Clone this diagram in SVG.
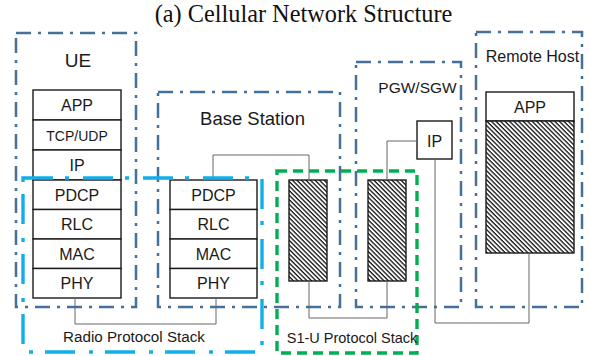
<svg xmlns="http://www.w3.org/2000/svg" width="590" height="356" viewBox="0 0 590 356">
<style>
.grp{fill:none;stroke:#44709a;stroke-width:2.5;stroke-dasharray:15 7 3 7}
.cell{fill:#fff;stroke:#1a1a1a;stroke-width:1.4}
.hatch{fill:url(#hatch);stroke:#1a1a1a;stroke-width:1.4}
.t{font-family:"Liberation Sans",Arial,sans-serif;fill:#1a1a1a;text-anchor:middle}
.c{font-size:16.5}
.conn{fill:none;stroke:#666;stroke-width:1}
</style>
<defs>
<pattern id="hatch" width="3.2" height="3.2" patternUnits="userSpaceOnUse" patternTransform="rotate(45)">
<rect width="3.2" height="3.2" fill="#fff"/>
<rect y="0" width="3.2" height="1.3" fill="#111"/>
</pattern>
</defs>
<rect width="590" height="356" fill="#fff"/>
<text x="303.5" y="22" font-family="'Liberation Serif','Times New Roman',serif" font-size="24.3" text-anchor="middle" fill="#111">(a) Cellular Network Structure</text>

<g id="ue">
<rect class="grp" x="16" y="33" width="120" height="274"/>
<text class="t" x="78" y="67" font-size="19">UE</text>
<rect class="cell" x="33" y="90" width="88" height="30"/>
<text class="t c" x="77" y="111">APP</text>
<rect class="cell" x="33" y="120" width="88" height="30"/>
<text class="t" x="77" y="140.5" font-size="14">TCP/UDP</text>
<rect class="cell" x="33" y="150" width="88" height="30"/>
<text class="t c" x="77" y="171">IP</text>
<rect class="cell" x="33" y="180" width="88" height="29.5"/>
<text class="t c" x="77" y="200.5">PDCP</text>
<rect class="cell" x="33" y="209.5" width="88" height="29.5"/>
<text class="t c" x="77" y="230">RLC</text>
<rect class="cell" x="33" y="239" width="88" height="29.5"/>
<text class="t c" x="77" y="259.5">MAC</text>
<rect class="cell" x="33" y="268.5" width="88" height="29.5"/>
<text class="t c" x="77" y="289">PHY</text>
</g>

<g id="base-station">
<rect class="grp" x="158" y="92" width="182" height="215"/>
<text class="t" x="252.5" y="125" font-size="18.5">Base Station</text>
<rect class="cell" x="170" y="180" width="87" height="29.5"/>
<text class="t c" x="213.5" y="200.5">PDCP</text>
<rect class="cell" x="170" y="209.5" width="87" height="29.5"/>
<text class="t c" x="213.5" y="230">RLC</text>
<rect class="cell" x="170" y="239" width="87" height="29.5"/>
<text class="t c" x="213.5" y="259.5">MAC</text>
<rect class="cell" x="170" y="268.5" width="87" height="29.5"/>
<text class="t c" x="213.5" y="289">PHY</text>
<rect class="hatch" x="289" y="180" width="38" height="101"/>
</g>

<g id="pgw-sgw">
<rect class="grp" x="356" y="62" width="105" height="245"/>
<text class="t" x="417.5" y="93" font-size="15.5">PGW/SGW</text>
<rect class="cell" x="417" y="121" width="35" height="38"/>
<text class="t c" x="434.5" y="146.5">IP</text>
<rect class="hatch" x="368" y="180" width="38" height="101"/>
</g>

<g id="remote-host">
<rect class="grp" x="476" y="32" width="106" height="275"/>
<text class="t" x="532.5" y="62" font-size="16">Remote Host</text>
<rect class="cell" x="486" y="92" width="88" height="29"/>
<text class="t c" x="530" y="112.5">APP</text>
<rect class="hatch" x="486" y="121" width="88" height="132"/>
</g>

<g id="connectors">
<path class="conn" d="M75 298V324H216V298"/>
<path class="conn" d="M213 180V155H309V180"/>
<path class="conn" d="M309 281V318H387V281"/>
<path class="conn" d="M417 141H387V180"/>
<path class="conn" d="M435 159V323H529V253"/>
</g>

<g id="radio-protocol-stack">
<rect x="23" y="178" width="239" height="174" fill="none" stroke="#12aeea" stroke-width="3.4" stroke-dasharray="30 12 4 14"/>
<text class="t" x="134" y="342" font-size="15.2">Radio Protocol Stack</text>
</g>

<g id="s1u-protocol-stack">
<rect x="277" y="171" width="140" height="182" fill="none" stroke="#00b050" stroke-width="3.4" stroke-dasharray="10 6"/>
<text class="t" x="352" y="343" font-size="14.5">S1-U Protocol Stack</text>
</g>
</svg>
